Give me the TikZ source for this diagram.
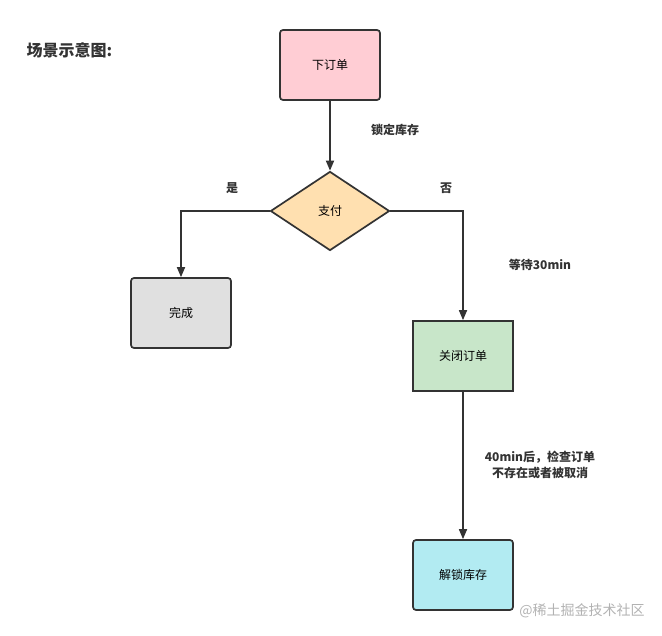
\documentclass[tikz,border=0pt]{standalone}
\usepackage{fontspec}
\setmainfont{Noto Sans CJK SC}
\usetikzlibrary{positioning}
\usetikzlibrary{shapes.geometric}
\usetikzlibrary{arrows.meta}

\definecolor{pinkfill}{HTML}{FFCDD4}
\definecolor{payfill}{HTML}{FFE0B0}
\definecolor{donefill}{HTML}{E0E0E0}
\definecolor{closefill}{HTML}{C8E6C9}
\definecolor{unlockfill}{HTML}{B2EBF2}
\definecolor{edgecol}{HTML}{333333}

\begin{document}
\begin{tikzpicture}[
      x=1pt, y=-1pt, >={Triangle[length=10pt,width=8pt]},
      stepbox/.style={rectangle, draw=edgecol, line width=1.7pt, rounded corners=3pt,
        minimum width=100pt, minimum height=70pt, inner sep=0pt, font=\fontsize{12}{14}\selectfont},
      decision/.style={diamond, draw=edgecol, line width=1.7pt, minimum width=119pt,
        minimum height=79pt, inner sep=0pt, font=\fontsize{12}{14}\selectfont},
      flow/.style={->, draw=edgecol, line width=1.7pt},
      note/.style={font=\bfseries\fontsize{12}{14}\selectfont, text=edgecol, align=center}]

      \useasboundingbox (0,0) rectangle (662,636);

      \node[font=\bfseries\fontsize{16}{18}\selectfont, text=edgecol, anchor=west] (title) at (23,50) {场景示意图:};

      % boxes
      \node[stepbox, fill=pinkfill] (order) at (330,65) {下订单};
      \node[decision, fill=payfill] (pay) at (330,211) {支付};
      \node[stepbox, fill=donefill] (done) at (181,313) {完成};
      \node[stepbox, fill=closefill, rounded corners=0pt] (close) at (463,356) {关闭订单};
      \node[stepbox, fill=unlockfill] (unlock) at (463,575) {解锁库存};

      % edges
      \draw[flow] (order) -- (pay);
      \draw[flow] (pay.west) -| (done.north);
      \draw[flow] (pay.east) -| (close.north);
      \draw[flow] (close) -- (unlock);

      % edge labels
      \node[note] (lock) at (395,130) {锁定库存};
      \node[note] (yes) at (232,188) {是};
      \node[note] (no) at (446,188) {否};
      \node[note] (wait) at (540,265) {等待30min};
      \node[note, font=\bfseries\fontsize{12}{16}\selectfont] (check) at (540,465) {40min后，检查订单\\不存在或者被取消};

      \node[font=\fontsize{14}{16}\selectfont, text=black!30] (mark) at (582,611) {@稀土掘金技术社区};
    \end{tikzpicture}
\end{document}
